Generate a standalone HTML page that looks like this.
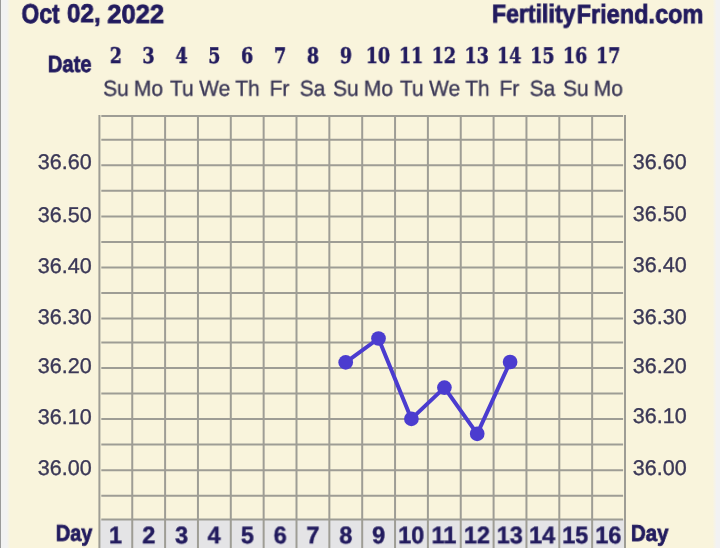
<!DOCTYPE html>
<html><head><meta charset="utf-8"><title>Fertility chart</title><style>
html,body{margin:0;padding:0;}
body{width:720px;height:548px;overflow:hidden;position:relative;background:#f2f2f2;}
#root{position:absolute;left:0;top:0;width:720px;height:548px;filter:blur(0.4px);}
#edge{position:absolute;left:0;top:0;width:1px;height:548px;background:#9a9a9a;}
#cream{position:absolute;left:7px;top:0;width:713px;height:548px;background:linear-gradient(to right,#f2f2f2 0px,#f9f4dc 3px,#f9f4dc 705.5px,#f2f2f2 709.5px,#f2f2f2 713px);}
.t{position:absolute;white-space:nowrap;line-height:1;transform-origin:0 0;will-change:transform;text-rendering:geometricPrecision;}
svg{position:absolute;left:0;top:0;}
</style></head><body>
<div id="root"><div id="edge"></div><div id="cream"></div>

<svg width="720" height="548" viewBox="0 0 720 548">
<rect x="99.4" y="519.4" width="525.6" height="28.600000000000023" fill="#e4e4e6"/>
<line x1="101.30" x2="623.10" y1="116.0" y2="116.0" stroke="#9e9d95" stroke-width="2"/>
<line x1="101.30" x2="623.10" y1="139.8" y2="139.8" stroke="#9e9d95" stroke-width="2"/>
<line x1="101.30" x2="623.10" y1="165.25" y2="165.25" stroke="#9e9d95" stroke-width="2"/>
<line x1="101.30" x2="623.10" y1="190.8" y2="190.8" stroke="#9e9d95" stroke-width="2"/>
<line x1="101.30" x2="623.10" y1="216.5" y2="216.5" stroke="#9e9d95" stroke-width="2"/>
<line x1="101.30" x2="623.10" y1="242.0" y2="242.0" stroke="#9e9d95" stroke-width="2"/>
<line x1="101.30" x2="623.10" y1="267.4" y2="267.4" stroke="#9e9d95" stroke-width="2"/>
<line x1="101.30" x2="623.10" y1="293.0" y2="293.0" stroke="#9e9d95" stroke-width="2"/>
<line x1="101.30" x2="623.10" y1="318.4" y2="318.4" stroke="#9e9d95" stroke-width="2"/>
<line x1="101.30" x2="623.10" y1="342.4" y2="342.4" stroke="#9e9d95" stroke-width="2"/>
<line x1="101.30" x2="623.10" y1="367.9" y2="367.9" stroke="#9e9d95" stroke-width="2"/>
<line x1="101.30" x2="623.10" y1="393.4" y2="393.4" stroke="#9e9d95" stroke-width="2"/>
<line x1="101.30" x2="623.10" y1="418.9" y2="418.9" stroke="#9e9d95" stroke-width="2"/>
<line x1="101.30" x2="623.10" y1="444.4" y2="444.4" stroke="#9e9d95" stroke-width="2"/>
<line x1="101.30" x2="623.10" y1="470.35" y2="470.35" stroke="#9e9d95" stroke-width="2"/>
<line x1="101.30" x2="623.10" y1="495.8" y2="495.8" stroke="#9e9d95" stroke-width="2"/>
<line x1="101.30" x2="623.10" y1="519.4" y2="519.4" stroke="#9e9d95" stroke-width="2"/>
<line x1="99.40" x2="99.40" y1="115.0" y2="548" stroke="#9e9d95" stroke-width="2"/>
<line x1="132.25" x2="132.25" y1="115.0" y2="548" stroke="#9e9d95" stroke-width="2"/>
<line x1="165.10" x2="165.10" y1="115.0" y2="548" stroke="#9e9d95" stroke-width="2"/>
<line x1="197.95" x2="197.95" y1="115.0" y2="548" stroke="#9e9d95" stroke-width="2"/>
<line x1="230.80" x2="230.80" y1="115.0" y2="548" stroke="#9e9d95" stroke-width="2"/>
<line x1="263.65" x2="263.65" y1="115.0" y2="548" stroke="#9e9d95" stroke-width="2"/>
<line x1="296.50" x2="296.50" y1="115.0" y2="548" stroke="#9e9d95" stroke-width="2"/>
<line x1="329.35" x2="329.35" y1="115.0" y2="548" stroke="#9e9d95" stroke-width="2"/>
<line x1="362.20" x2="362.20" y1="115.0" y2="548" stroke="#9e9d95" stroke-width="2"/>
<line x1="395.05" x2="395.05" y1="115.0" y2="548" stroke="#9e9d95" stroke-width="2"/>
<line x1="427.90" x2="427.90" y1="115.0" y2="548" stroke="#9e9d95" stroke-width="2"/>
<line x1="460.75" x2="460.75" y1="115.0" y2="548" stroke="#9e9d95" stroke-width="2"/>
<line x1="493.60" x2="493.60" y1="115.0" y2="548" stroke="#9e9d95" stroke-width="2"/>
<line x1="526.45" x2="526.45" y1="115.0" y2="548" stroke="#9e9d95" stroke-width="2"/>
<line x1="559.30" x2="559.30" y1="115.0" y2="548" stroke="#9e9d95" stroke-width="2"/>
<line x1="592.15" x2="592.15" y1="115.0" y2="548" stroke="#9e9d95" stroke-width="2"/>
<line x1="625.00" x2="625.00" y1="115.0" y2="548" stroke="#9e9d95" stroke-width="2"/>
<polyline points="345.7,362.4 378.5,338.5 411.4,418.9 444.4,387.6 477.2,433.8 510.1,362.0" fill="none" stroke="#4b3ccf" stroke-width="4" stroke-linejoin="round"/>
<circle cx="345.7" cy="362.4" r="7.35" fill="#4b3ccf"/>
<circle cx="378.5" cy="338.5" r="7.35" fill="#4b3ccf"/>
<circle cx="411.4" cy="418.9" r="7.35" fill="#4b3ccf"/>
<circle cx="444.4" cy="387.6" r="7.35" fill="#4b3ccf"/>
<circle cx="477.2" cy="433.8" r="7.35" fill="#4b3ccf"/>
<circle cx="510.1" cy="362.0" r="7.35" fill="#4b3ccf"/>
</svg>
<div class="t" style="left:21px;top:-1px;font-family:'Liberation Sans',sans-serif;font-weight:bold;-webkit-text-stroke:0.8px;font-size:27.26px;color:#221b5e;transform:translate(0.47px,0.93px) scaleX(0.842)">Oct</div>
<div class="t" style="left:66px;top:2px;font-family:'Liberation Sans',sans-serif;font-weight:bold;-webkit-text-stroke:0.8px;font-size:25.67px;color:#221b5e;transform:translate(0.92px,0.00px) scaleX(0.948)">02,</div>
<div class="t" style="left:107px;top:0px;font-family:'Liberation Sans',sans-serif;font-weight:bold;-webkit-text-stroke:0.8px;font-size:26.00px;color:#221b5e;transform:translate(0.24px,0.89px) scaleX(0.981)">2022</div>
<div class="t" style="left:491px;top:2px;font-family:'Liberation Sans',sans-serif;font-weight:bold;-webkit-text-stroke:0.8px;font-size:25.77px;color:#221b5e;transform:translate(0.98px,0.43px) scaleX(0.896)">Fertility</div>
<div class="t" style="left:576px;top:1px;font-family:'Liberation Sans',sans-serif;font-weight:bold;-webkit-text-stroke:0.8px;font-size:26.31px;color:#221b5e;transform:translate(0.68px,0.03px) scaleX(0.894)">Friend.com</div>
<div class="t" style="left:47px;top:52px;font-family:'Liberation Sans',sans-serif;font-weight:bold;-webkit-text-stroke:0.8px;font-size:23.26px;color:#221b5e;transform:translate(0.85px,0.92px) scaleX(0.867)">Date</div>
<div class="t" style="left:109px;top:46px;font-family:'DejaVu Serif',serif;font-stretch:condensed;font-weight:bold;-webkit-text-stroke:0.45px;font-size:21.72px;color:#221b5e;transform:translate(0.72px,0.05px) scaleX(0.900)">2</div>
<div class="t" style="left:142px;top:46px;font-family:'DejaVu Serif',serif;font-stretch:condensed;font-weight:bold;-webkit-text-stroke:0.45px;font-size:21.72px;color:#221b5e;transform:translate(0.33px,0.05px) scaleX(0.900)">3</div>
<div class="t" style="left:175px;top:46px;font-family:'DejaVu Serif',serif;font-stretch:condensed;font-weight:bold;-webkit-text-stroke:0.45px;font-size:21.72px;color:#221b5e;transform:translate(0.55px,0.05px) scaleX(0.900)">4</div>
<div class="t" style="left:208px;top:46px;font-family:'DejaVu Serif',serif;font-stretch:condensed;font-weight:bold;-webkit-text-stroke:0.45px;font-size:21.72px;color:#221b5e;transform:translate(0.22px,0.05px) scaleX(0.900)">5</div>
<div class="t" style="left:240px;top:46px;font-family:'DejaVu Serif',serif;font-stretch:condensed;font-weight:bold;-webkit-text-stroke:0.45px;font-size:21.72px;color:#221b5e;transform:translate(0.95px,0.05px) scaleX(0.900)">6</div>
<div class="t" style="left:273px;top:46px;font-family:'DejaVu Serif',serif;font-stretch:condensed;font-weight:bold;-webkit-text-stroke:0.45px;font-size:21.72px;color:#221b5e;transform:translate(0.97px,0.05px) scaleX(0.900)">7</div>
<div class="t" style="left:306px;top:46px;font-family:'DejaVu Serif',serif;font-stretch:condensed;font-weight:bold;-webkit-text-stroke:0.45px;font-size:21.72px;color:#221b5e;transform:translate(0.82px,0.05px) scaleX(0.900)">8</div>
<div class="t" style="left:339px;top:46px;font-family:'DejaVu Serif',serif;font-stretch:condensed;font-weight:bold;-webkit-text-stroke:0.45px;font-size:21.72px;color:#221b5e;transform:translate(0.84px,0.05px) scaleX(0.900)">9</div>
<div class="t" style="left:365px;top:46px;font-family:'DejaVu Serif',serif;font-stretch:condensed;font-weight:bold;-webkit-text-stroke:0.45px;font-size:21.72px;color:#221b5e;transform:translate(0.75px,0.05px) scaleX(0.900)">10</div>
<div class="t" style="left:398px;top:46px;font-family:'DejaVu Serif',serif;font-stretch:condensed;font-weight:bold;-webkit-text-stroke:0.45px;font-size:21.72px;color:#221b5e;transform:translate(0.90px,0.05px) scaleX(0.900)">11</div>
<div class="t" style="left:431px;top:46px;font-family:'DejaVu Serif',serif;font-stretch:condensed;font-weight:bold;-webkit-text-stroke:0.45px;font-size:21.72px;color:#221b5e;transform:translate(0.67px,0.05px) scaleX(0.900)">12</div>
<div class="t" style="left:464px;top:46px;font-family:'DejaVu Serif',serif;font-stretch:condensed;font-weight:bold;-webkit-text-stroke:0.45px;font-size:21.72px;color:#221b5e;transform:translate(0.49px,0.05px) scaleX(0.900)">13</div>
<div class="t" style="left:496px;top:46px;font-family:'DejaVu Serif',serif;font-stretch:condensed;font-weight:bold;-webkit-text-stroke:0.45px;font-size:21.72px;color:#221b5e;transform:translate(0.98px,0.05px) scaleX(0.900)">14</div>
<div class="t" style="left:530px;top:46px;font-family:'DejaVu Serif',serif;font-stretch:condensed;font-weight:bold;-webkit-text-stroke:0.45px;font-size:21.72px;color:#221b5e;transform:translate(0.19px,0.05px) scaleX(0.900)">15</div>
<div class="t" style="left:562px;top:46px;font-family:'DejaVu Serif',serif;font-stretch:condensed;font-weight:bold;-webkit-text-stroke:0.45px;font-size:21.72px;color:#221b5e;transform:translate(0.90px,0.05px) scaleX(0.900)">16</div>
<div class="t" style="left:595px;top:46px;font-family:'DejaVu Serif',serif;font-stretch:condensed;font-weight:bold;-webkit-text-stroke:0.45px;font-size:21.72px;color:#221b5e;transform:translate(0.96px,0.05px) scaleX(0.900)">17</div>
<div class="t" style="left:103px;top:77px;font-family:'Liberation Sans',sans-serif;-webkit-text-stroke:0.35px;font-size:21.87px;color:#3b3857;transform:translate(0.12px,0.75px) scaleX(0.960)">Su</div>
<div class="t" style="left:133px;top:77px;font-family:'Liberation Sans',sans-serif;-webkit-text-stroke:0.35px;font-size:21.87px;color:#3b3857;transform:translate(0.85px,0.75px) scaleX(0.960)">Mo</div>
<div class="t" style="left:169px;top:77px;font-family:'Liberation Sans',sans-serif;-webkit-text-stroke:0.35px;font-size:21.87px;color:#3b3857;transform:translate(0.98px,0.75px) scaleX(0.960)">Tu</div>
<div class="t" style="left:199px;top:77px;font-family:'Liberation Sans',sans-serif;-webkit-text-stroke:0.35px;font-size:21.87px;color:#3b3857;transform:translate(0.13px,0.75px) scaleX(0.960)">We</div>
<div class="t" style="left:235px;top:77px;font-family:'Liberation Sans',sans-serif;-webkit-text-stroke:0.35px;font-size:21.87px;color:#3b3857;transform:translate(0.29px,0.75px) scaleX(0.960)">Th</div>
<div class="t" style="left:269px;top:77px;font-family:'Liberation Sans',sans-serif;-webkit-text-stroke:0.35px;font-size:21.87px;color:#3b3857;transform:translate(0.65px,0.75px) scaleX(0.960)">Fr</div>
<div class="t" style="left:299px;top:77px;font-family:'Liberation Sans',sans-serif;-webkit-text-stroke:0.35px;font-size:21.87px;color:#3b3857;transform:translate(0.72px,0.75px) scaleX(0.960)">Sa</div>
<div class="t" style="left:333px;top:77px;font-family:'Liberation Sans',sans-serif;-webkit-text-stroke:0.35px;font-size:21.87px;color:#3b3857;transform:translate(0.05px,0.75px) scaleX(0.960)">Su</div>
<div class="t" style="left:363px;top:77px;font-family:'Liberation Sans',sans-serif;-webkit-text-stroke:0.35px;font-size:21.87px;color:#3b3857;transform:translate(0.79px,0.75px) scaleX(0.960)">Mo</div>
<div class="t" style="left:399px;top:77px;font-family:'Liberation Sans',sans-serif;-webkit-text-stroke:0.35px;font-size:21.87px;color:#3b3857;transform:translate(0.92px,0.75px) scaleX(0.960)">Tu</div>
<div class="t" style="left:429px;top:77px;font-family:'Liberation Sans',sans-serif;-webkit-text-stroke:0.35px;font-size:21.87px;color:#3b3857;transform:translate(0.07px,0.75px) scaleX(0.960)">We</div>
<div class="t" style="left:465px;top:77px;font-family:'Liberation Sans',sans-serif;-webkit-text-stroke:0.35px;font-size:21.87px;color:#3b3857;transform:translate(0.20px,0.75px) scaleX(0.960)">Th</div>
<div class="t" style="left:499px;top:77px;font-family:'Liberation Sans',sans-serif;-webkit-text-stroke:0.35px;font-size:21.87px;color:#3b3857;transform:translate(0.54px,0.75px) scaleX(0.960)">Fr</div>
<div class="t" style="left:529px;top:77px;font-family:'Liberation Sans',sans-serif;-webkit-text-stroke:0.35px;font-size:21.87px;color:#3b3857;transform:translate(0.65px,0.75px) scaleX(0.960)">Sa</div>
<div class="t" style="left:563px;top:77px;font-family:'Liberation Sans',sans-serif;-webkit-text-stroke:0.35px;font-size:21.87px;color:#3b3857;transform:translate(0.04px,0.75px) scaleX(0.960)">Su</div>
<div class="t" style="left:593px;top:77px;font-family:'Liberation Sans',sans-serif;-webkit-text-stroke:0.35px;font-size:21.87px;color:#3b3857;transform:translate(0.70px,0.75px) scaleX(0.960)">Mo</div>
<div class="t" style="left:37px;top:152px;font-family:'Liberation Sans',sans-serif;-webkit-text-stroke:0.35px;font-size:21.33px;color:#3b3857;transform:translate(0.84px,0.32px) scaleX(1.011)">36.60</div>
<div class="t" style="left:632px;top:152px;font-family:'Liberation Sans',sans-serif;-webkit-text-stroke:0.35px;font-size:21.33px;color:#3b3857;transform:translate(0.83px,0.35px) scaleX(1.011)">36.60</div>
<div class="t" style="left:37px;top:204px;font-family:'Liberation Sans',sans-serif;-webkit-text-stroke:0.35px;font-size:21.33px;color:#3b3857;transform:translate(0.84px,0.78px) scaleX(1.011)">36.50</div>
<div class="t" style="left:632px;top:204px;font-family:'Liberation Sans',sans-serif;-webkit-text-stroke:0.35px;font-size:21.33px;color:#3b3857;transform:translate(0.83px,0.21px) scaleX(1.011)">36.50</div>
<div class="t" style="left:37px;top:255px;font-family:'Liberation Sans',sans-serif;-webkit-text-stroke:0.35px;font-size:21.33px;color:#3b3857;transform:translate(0.84px,0.78px) scaleX(1.011)">36.40</div>
<div class="t" style="left:632px;top:255px;font-family:'Liberation Sans',sans-serif;-webkit-text-stroke:0.35px;font-size:21.33px;color:#3b3857;transform:translate(0.83px,0.21px) scaleX(1.011)">36.40</div>
<div class="t" style="left:37px;top:306px;font-family:'Liberation Sans',sans-serif;-webkit-text-stroke:0.35px;font-size:21.33px;color:#3b3857;transform:translate(0.84px,0.76px) scaleX(1.011)">36.30</div>
<div class="t" style="left:632px;top:306px;font-family:'Liberation Sans',sans-serif;-webkit-text-stroke:0.35px;font-size:21.33px;color:#3b3857;transform:translate(0.83px,0.79px) scaleX(1.011)">36.30</div>
<div class="t" style="left:37px;top:355px;font-family:'Liberation Sans',sans-serif;-webkit-text-stroke:0.35px;font-size:21.33px;color:#3b3857;transform:translate(0.84px,0.76px) scaleX(1.011)">36.20</div>
<div class="t" style="left:632px;top:355px;font-family:'Liberation Sans',sans-serif;-webkit-text-stroke:0.35px;font-size:21.33px;color:#3b3857;transform:translate(0.83px,0.79px) scaleX(1.011)">36.20</div>
<div class="t" style="left:37px;top:406px;font-family:'Liberation Sans',sans-serif;-webkit-text-stroke:0.35px;font-size:21.33px;color:#3b3857;transform:translate(0.84px,0.78px) scaleX(1.011)">36.10</div>
<div class="t" style="left:632px;top:406px;font-family:'Liberation Sans',sans-serif;-webkit-text-stroke:0.35px;font-size:21.33px;color:#3b3857;transform:translate(0.83px,0.21px) scaleX(1.011)">36.10</div>
<div class="t" style="left:37px;top:457px;font-family:'Liberation Sans',sans-serif;-webkit-text-stroke:0.35px;font-size:21.33px;color:#3b3857;transform:translate(0.84px,0.60px) scaleX(1.011)">36.00</div>
<div class="t" style="left:632px;top:457px;font-family:'Liberation Sans',sans-serif;-webkit-text-stroke:0.35px;font-size:21.33px;color:#3b3857;transform:translate(0.83px,0.63px) scaleX(1.011)">36.00</div>
<div class="t" style="left:55px;top:521px;font-family:'Liberation Sans',sans-serif;font-weight:bold;-webkit-text-stroke:0.8px;font-size:22.96px;color:#221b5e;transform:translate(0.84px,0.76px) scaleX(0.868)">Day</div>
<div class="t" style="left:630px;top:521px;font-family:'Liberation Sans',sans-serif;font-weight:bold;-webkit-text-stroke:0.8px;font-size:22.91px;color:#221b5e;transform:translate(0.95px,0.88px) scaleX(0.893)">Day</div>
<div class="t" style="left:108px;top:524px;font-family:'Liberation Sans',sans-serif;font-weight:bold;-webkit-text-stroke:0.45px;font-size:23.99px;color:#221b5e;transform:translate(0.98px,0.29px) scaleX(0.980)">1</div>
<div class="t" style="left:142px;top:524px;font-family:'Liberation Sans',sans-serif;font-weight:bold;-webkit-text-stroke:0.45px;font-size:23.99px;color:#221b5e;transform:translate(0.27px,0.29px) scaleX(0.980)">2</div>
<div class="t" style="left:175px;top:524px;font-family:'Liberation Sans',sans-serif;font-weight:bold;-webkit-text-stroke:0.45px;font-size:23.99px;color:#221b5e;transform:translate(0.04px,0.29px) scaleX(0.980)">3</div>
<div class="t" style="left:207px;top:524px;font-family:'Liberation Sans',sans-serif;font-weight:bold;-webkit-text-stroke:0.45px;font-size:23.99px;color:#221b5e;transform:translate(0.51px,0.29px) scaleX(0.980)">4</div>
<div class="t" style="left:240px;top:524px;font-family:'Liberation Sans',sans-serif;font-weight:bold;-webkit-text-stroke:0.45px;font-size:23.99px;color:#221b5e;transform:translate(0.85px,0.29px) scaleX(0.980)">5</div>
<div class="t" style="left:273px;top:524px;font-family:'Liberation Sans',sans-serif;font-weight:bold;-webkit-text-stroke:0.45px;font-size:23.99px;color:#221b5e;transform:translate(0.64px,0.29px) scaleX(0.980)">6</div>
<div class="t" style="left:306px;top:524px;font-family:'Liberation Sans',sans-serif;font-weight:bold;-webkit-text-stroke:0.45px;font-size:23.99px;color:#221b5e;transform:translate(0.34px,0.29px) scaleX(0.980)">7</div>
<div class="t" style="left:339px;top:524px;font-family:'Liberation Sans',sans-serif;font-weight:bold;-webkit-text-stroke:0.45px;font-size:23.99px;color:#221b5e;transform:translate(0.30px,0.29px) scaleX(0.980)">8</div>
<div class="t" style="left:372px;top:524px;font-family:'Liberation Sans',sans-serif;font-weight:bold;-webkit-text-stroke:0.45px;font-size:23.99px;color:#221b5e;transform:translate(0.08px,0.29px) scaleX(0.980)">9</div>
<div class="t" style="left:398px;top:524px;font-family:'Liberation Sans',sans-serif;font-weight:bold;-webkit-text-stroke:0.45px;font-size:23.99px;color:#221b5e;transform:translate(0.18px,0.29px) scaleX(0.980)">10</div>
<div class="t" style="left:431px;top:524px;font-family:'Liberation Sans',sans-serif;font-weight:bold;-webkit-text-stroke:0.45px;font-size:23.99px;color:#221b5e;transform:translate(0.51px,0.29px) scaleX(0.980)">11</div>
<div class="t" style="left:463px;top:524px;font-family:'Liberation Sans',sans-serif;font-weight:bold;-webkit-text-stroke:0.45px;font-size:23.99px;color:#221b5e;transform:translate(0.89px,0.29px) scaleX(0.980)">12</div>
<div class="t" style="left:496px;top:524px;font-family:'Liberation Sans',sans-serif;font-weight:bold;-webkit-text-stroke:0.45px;font-size:23.99px;color:#221b5e;transform:translate(0.73px,0.29px) scaleX(0.980)">13</div>
<div class="t" style="left:529px;top:524px;font-family:'Liberation Sans',sans-serif;font-weight:bold;-webkit-text-stroke:0.45px;font-size:23.99px;color:#221b5e;transform:translate(0.07px,0.29px) scaleX(0.980)">14</div>
<div class="t" style="left:562px;top:524px;font-family:'Liberation Sans',sans-serif;font-weight:bold;-webkit-text-stroke:0.45px;font-size:23.99px;color:#221b5e;transform:translate(0.19px,0.29px) scaleX(0.980)">15</div>
<div class="t" style="left:595px;top:524px;font-family:'Liberation Sans',sans-serif;font-weight:bold;-webkit-text-stroke:0.45px;font-size:23.99px;color:#221b5e;transform:translate(0.28px,0.29px) scaleX(0.980)">16</div>
</div></body></html>
